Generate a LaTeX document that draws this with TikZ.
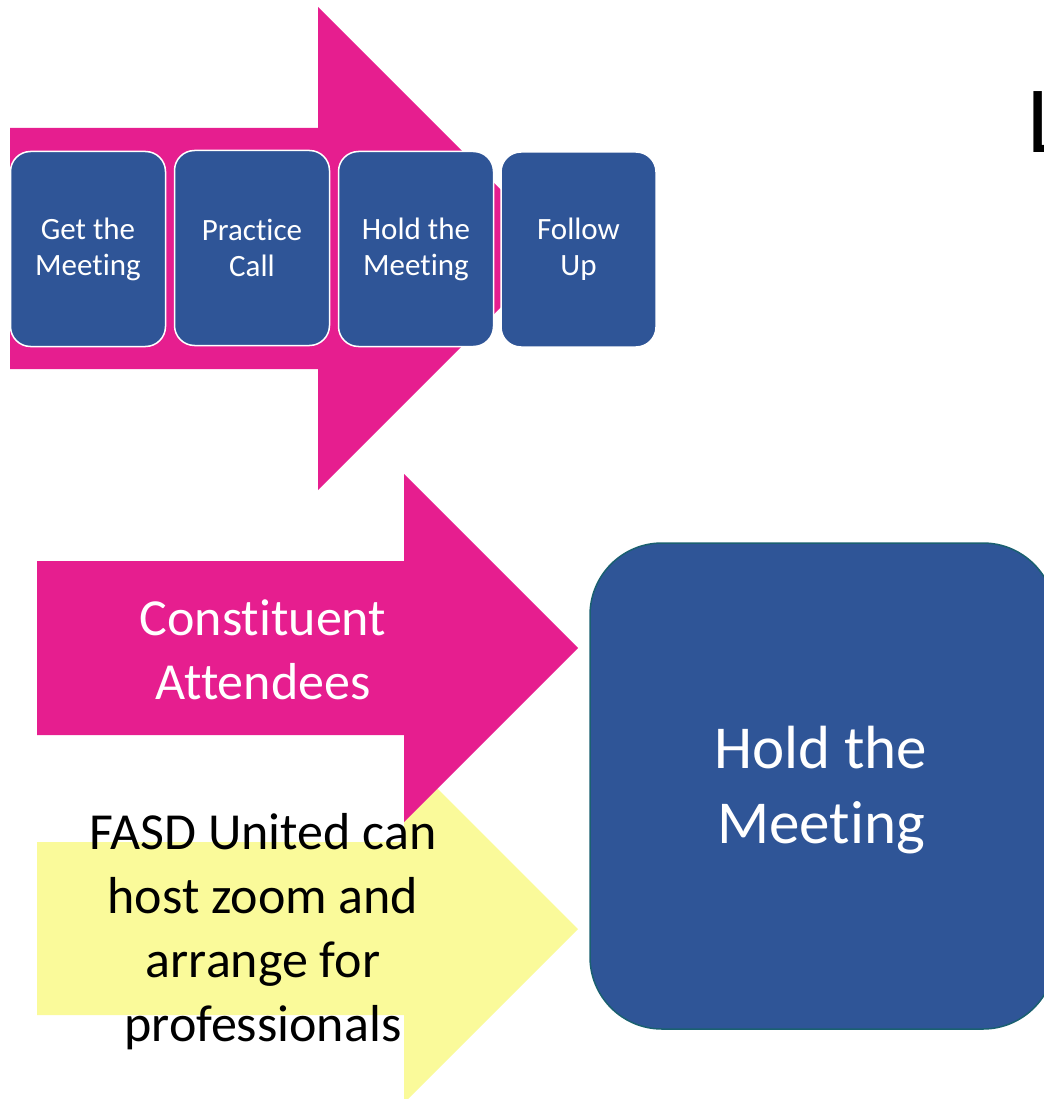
\documentclass[tikz,border=0pt]{standalone}
\usepackage{fontspec}
\setmainfont[Ligatures=NoCommon]{Carlito}
\usepackage{tikz}
\definecolor{arrowpink}{RGB}{230,30,143}
\definecolor{arrowyellow}{RGB}{250,250,154}
\definecolor{stageblue}{RGB}{47,85,151}
\definecolor{stageedge}{RGB}{26,96,112}
\tikzstyle{stage} = [draw=white, line width=1.5pt, fill=stageblue, rounded corners=20pt, minimum width=155pt, minimum height=195pt, text=white, align=center, font={\fontsize{31}{36}\selectfont}]
\tikzstyle{bigstage} = [draw=stageedge, line width=1.5pt, fill=stageblue, rounded corners=72pt, minimum width=465pt, minimum height=486pt, text=white, align=center, font={\fontsize{61}{75}\selectfont}]
\tikzstyle{arrowtext} = [align=center, font={\fontsize{52}{64}\selectfont}]

\begin{document}
\begin{tikzpicture}[x=1pt,y=-1pt]
    \useasboundingbox (0,0) rectangle (1043,1099);
    \fill[arrowpink] (10,128) -- (318,128) -- (318,7) -- (559.5,248.5) -- (318,490) -- (318,369) -- (10,369) -- cycle;
    \node[stage](get) at (88,249){Get the\\Meeting};
    \node[stage](practice) at (252,248){Practice\\Call};
    \node[stage](hold) at (416,249){Hold the\\Meeting};
    \node[stage](follow) at (578.5,249.5){Follow\\Up};
    \node[anchor=base west, inner sep=0pt, font={\fontsize{95}{110}\selectfont}](title) at (1027,153){L};
    \fill[arrowyellow] (37,842) -- (404,842) -- (404,755) -- (578,929) -- (404,1103) -- (404,1015) -- (37,1015) -- cycle;
    \fill[arrowpink] (37,561) -- (404,561) -- (404,474) -- (578,648) -- (404,822) -- (404,735) -- (37,735) -- cycle;
    \node[arrowtext, text=white](constituent) at (263,650){Constituent\\Attendees};
    \node[arrowtext](fasd) at (263,932){FASD United can\\host zoom and\\arrange for\\professionals};
    \node[bigstage](meeting) at (822.5,786){};
    \node[text=white, align=center, font={\fontsize{61}{75}\selectfont}](meetingtext) at (821,790){Hold the\\Meeting};
  \end{tikzpicture}
\end{document}
